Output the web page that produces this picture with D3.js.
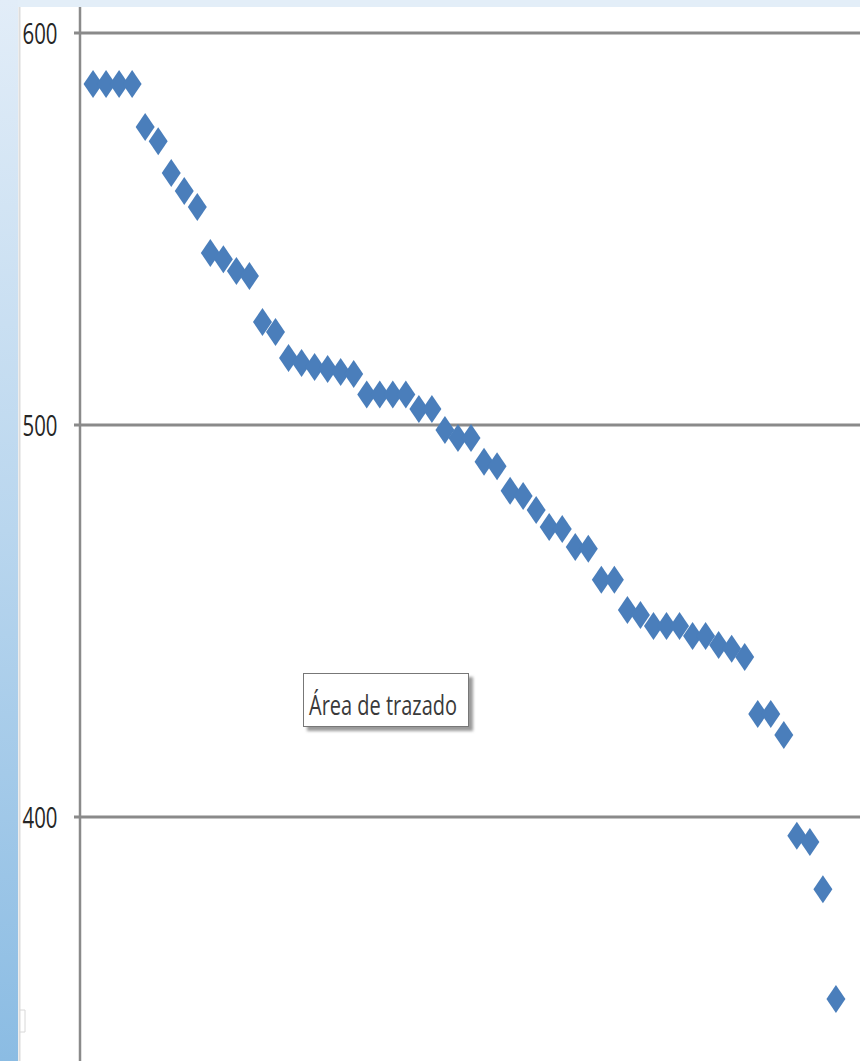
<!DOCTYPE html>
<html>
<head>
<meta charset="utf-8">
<script src="https://cdn.jsdelivr.net/npm/d3@7/dist/d3.min.js"></script>
<style>
  html, body { margin: 0; padding: 0; background: #ffffff; }
  svg { display: block; }
</style>
</head>
<body>
<script>
// ---- data ----
const categories = d3.range(1, 59); // point index 1..58
const values = [
  587, 587, 587, 587, 576, 572.4, 564.3, 559.7, 555.6, 543.9,
  542.3, 539.3, 538.0, 526.3, 523.7, 517.1, 515.8, 514.8, 514.3, 513.5,
  513.0, 507.8, 507.8, 507.8, 507.8, 504.1, 504.1, 498.7, 496.7, 496.7,
  490.6, 489.5, 483.2, 481.9, 478.3, 474.0, 473.5, 468.9, 468.4, 460.5,
  460.5, 452.8, 451.5, 448.7, 448.7, 448.7, 446.2, 446.2, 443.9, 442.9,
  440.8, 426.3, 426.3, 420.9, 395.2, 393.6, 381.6, 353.6
];
const yTicks = [400, 500, 600];
const tooltipLabel = "Área de trazado";

// ---- layout ----
const W = 860, H = 1061;
const svg = d3.select("body").append("svg").attr("width", W).attr("height", H);

const defs = svg.append("defs");
const grad = defs.append("linearGradient").attr("id", "sideGrad")
  .attr("x1", 0).attr("y1", 0).attr("x2", 0).attr("y2", 1);
grad.append("stop").attr("offset", "0%").attr("stop-color", "#e2edf8");
grad.append("stop").attr("offset", "50%").attr("stop-color", "#b9d6ee");
grad.append("stop").attr("offset", "100%").attr("stop-color", "#8bbce3");
const shadow = defs.append("filter").attr("id", "shadow")
  .attr("x", "-10%").attr("y", "-10%").attr("width", "130%").attr("height", "140%");
shadow.append("feGaussianBlur").attr("stdDeviation", 1.5);

// background frame
svg.append("rect").attr("x", 0).attr("y", 0).attr("width", W).attr("height", 7).attr("fill", "#e3eef8");
svg.append("rect").attr("x", 0).attr("y", 0).attr("width", 18).attr("height", H).attr("fill", "url(#sideGrad)");
svg.append("rect").attr("x", 18).attr("y", 7).attr("width", W - 18).attr("height", H - 7).attr("fill", "#ffffff");
svg.append("line").attr("x1", 19.5).attr("x2", 19.5).attr("y1", 7).attr("y2", H)
  .attr("stroke", "#dcdcdc").attr("stroke-width", 2);
svg.append("path").attr("d", "M19.5,1010 L25,1010 L25,1032 L19.5,1032")
  .attr("fill", "none").attr("stroke", "#d8d8d8").attr("stroke-width", 1);

// scales
const x = d3.scaleLinear().domain([0, 60]).range([80, 862]);
const y = d3.scaleLinear().domain([400, 600]).range([817, 33]);

// gridlines
svg.append("g").selectAll("line").data(yTicks).join("line")
  .attr("x1", 74).attr("x2", W)
  .attr("y1", d => y(d)).attr("y2", d => y(d))
  .attr("stroke", "#8a8a8a").attr("stroke-width", 3);

// y axis line
svg.append("line").attr("x1", 80).attr("x2", 80).attr("y1", 7).attr("y2", H)
  .attr("stroke", "#8a8a8a").attr("stroke-width", 2.5);

// tick labels
svg.append("g").selectAll("text").data(yTicks).join("text")
  .attr("x", 57.5).attr("y", d => y(d) + 11)
  .attr("text-anchor", "end")
  .attr("font-family", "'Open Sans', 'Liberation Sans', sans-serif")
  .attr("font-size", 29)
  .attr("textLength", 35).attr("lengthAdjust", "spacingAndGlyphs")
  .attr("fill", "#262626")
  .text(d => d);

// diamonds
const dw = 9.5, dh = 14;
const diamond = `M0,${-dh} L${dw},0 L0,${dh} L${-dw},0 Z`;
svg.append("g").selectAll("path").data(values).join("path")
  .attr("d", diamond)
  .attr("transform", (d, i) => `translate(${x(categories[i])},${y(d)})`)
  .attr("fill", "#4a7ebb");

// "Área de trazado" tooltip
const tip = svg.append("g");
tip.append("rect").attr("x", 307).attr("y", 677).attr("width", 166).attr("height", 54)
  .attr("fill", "#9a9a9a").attr("filter", "url(#shadow)");
tip.append("rect").attr("x", 303.5).attr("y", 673.5).attr("width", 165).attr("height", 53)
  .attr("fill", "#ffffff").attr("stroke", "#777777").attr("stroke-width", 1);
tip.append("text").attr("x", 309).attr("y", 715)
  .attr("font-family", "'Open Sans', 'Liberation Sans', sans-serif")
  .attr("font-size", 28)
  .attr("textLength", 148).attr("lengthAdjust", "spacingAndGlyphs")
  .attr("fill", "#3a3a3a")
  .text(tooltipLabel);
</script>
</body>
</html>
